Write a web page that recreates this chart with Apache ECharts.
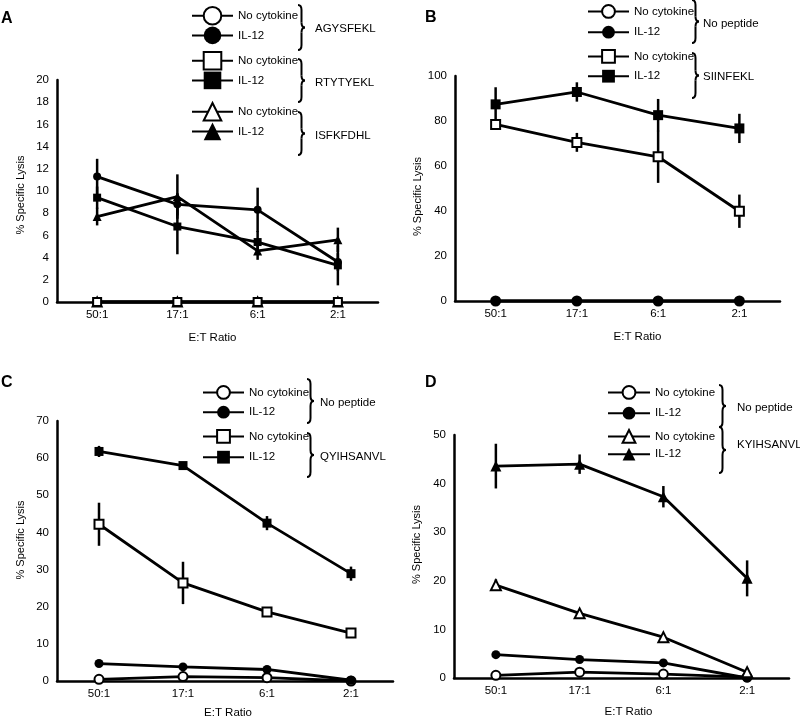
<!DOCTYPE html>
<html><head><meta charset="utf-8">
<script src="https://cdn.jsdelivr.net/npm/echarts@6/dist/echarts.min.js"></script>
<style>html,body{margin:0;padding:0;background:#fff}#c{width:800px;height:717px}</style>
</head><body><div id="c"></div>
<script>
const categories = ['50:1', '17:1', '6:1', '2:1'];
const yAxisTitle = '% Specific Lysis';
const xAxisTitle = 'E:T Ratio';
const noCytLabel = 'No cytokine';
const il12Label = 'IL-12';

// Panel A
const A_AGY_noCyt = [0, 0, 0, 0];
const A_AGY_il12 = [11.3, 8.8, 8.3, 3.6];
const A_AGY_il12Err = [1.6, 1.0, 2.0, 0.8];
const A_RTY_noCyt = [0, 0, 0, 0];
const A_RTY_il12 = [9.4, 6.8, 5.4, 3.3];
const A_RTY_il12Err = [1.0, 2.5, 1.0, 1.8];
const A_ISF_noCyt = [0, 0, 0, 0];
const A_ISF_il12 = [7.7, 9.5, 4.6, 5.6];
const A_ISF_il12Err = [0.8, 2.0, 0.8, 1.1];
const A_groups = ['AGYSFEKL', 'RTYTYEKL', 'ISFKFDHL'];
const A_ticks = [0, 20, 2];

// Panel B
const B_none_noCyt = [0, 0, 0, 0];
const B_none_il12 = [0, 0, 0, 0];
const B_SII_noCyt = [78.5, 70.5, 64.1, 39.9];
const B_SII_noCytErr = [1.0, 4.2, 11.6, 7.4];
const B_SII_il12 = [87.4, 92.9, 82.6, 76.7];
const B_SII_il12Err = [7.6, 4.3, 7.2, 6.5];
const B_groups = ['No peptide', 'SIINFEKL'];
const B_ticks = [0, 100, 20];

// Panel C
const C_none_noCyt = [0.45, 1.2, 0.9, 0];
const C_none_il12 = [4.7, 3.8, 3.1, 0.2];
const C_QYI_noCyt = [42.2, 26.4, 18.6, 12.9];
const C_QYI_noCytErr = [5.8, 5.7, 0.5, 0.3];
const C_QYI_il12 = [61.8, 58.0, 42.5, 28.9];
const C_QYI_il12Err = [1.5, 0.7, 1.9, 1.9];
const C_groups = ['No peptide', 'QYIHSANVL'];
const C_ticks = [0, 70, 10];

// Panel D
const D_none_noCyt = [0.55, 1.2, 0.8, 0.2];
const D_none_il12 = [4.8, 3.8, 3.1, 0];
const D_KYI_noCyt = [19.1, 13.3, 8.4, 1.2];
const D_KYI_noCytErr = [1.2, 0.6, 0.8, 0.9];
const D_KYI_il12 = [43.6, 44.0, 37.3, 20.5];
const D_KYI_il12Err = [4.6, 2.0, 2.2, 3.7];
const D_groups = ['No peptide', 'KYIHSANVL'];
const D_ticks = [0, 50, 10];

const FONT = '"Liberation Sans", Arial, Helvetica, sans-serif';

const panels = [
  { letter: 'A', letterPos: [1, 19], grid: { left: 57, top: 80, width: 321, height: 222 }, ticks: A_ticks,
    yGap: 31, yPad: [0, 8, 0, 0], xGap: 30, xPad: [0, 10, 0, 0],
    series: [
      { id: 'A1', sym: 'emptyCircle', size: 8, data: A_AGY_noCyt, label: noCytLabel },
      { id: 'A3', sym: 'emptyTriangle', size: 9, data: A_ISF_noCyt, label: noCytLabel },
      { id: 'A2', sym: 'emptyRect', size: 8, data: A_RTY_noCyt, label: noCytLabel },
      { id: 'A4', sym: 'circle', size: 8, data: A_AGY_il12, err: A_AGY_il12Err, label: il12Label },
      { id: 'A5', sym: 'rect', size: 8, data: A_RTY_il12, err: A_RTY_il12Err, label: il12Label },
      { id: 'A6', sym: 'triangle', size: 9, data: A_ISF_il12, err: A_ISF_il12Err, label: il12Label }
    ],
    legends: [
      { items: ['A1', 'A4'], left: 191, top: 6, w: 41, h: 22, gap: 1 },
      { items: ['A2', 'A5'], left: 191, top: 51, w: 41, h: 22, gap: 1 },
      { items: ['A3', 'A6'], left: 191, top: 102, w: 41, h: 22, gap: 1 }
    ],
    braces: [[298, 5, 50], [298, 59, 102], [298, 112, 155]],
    groupLabels: [[A_groups[0], 315, 29], [A_groups[1], 315, 83], [A_groups[2], 315, 136]]
  },
  { letter: 'B', letterPos: [425, 18], grid: { left: 455, top: 76, width: 325, height: 225 }, ticks: B_ticks,
    yGap: 32, yPad: [0, 16, 0, 0], xGap: 30, xPad: [0, 0, 0, 40],
    series: [
      { id: 'B1', sym: 'emptyCircle', size: 9, data: B_none_noCyt, label: noCytLabel },
      { id: 'B2', sym: 'circle', size: 9, data: B_none_il12, label: il12Label },
      { id: 'B3', sym: 'emptyRect', size: 9, data: B_SII_noCyt, err: B_SII_noCytErr, label: noCytLabel },
      { id: 'B4', sym: 'rect', size: 10, data: B_SII_il12, err: B_SII_il12Err, label: il12Label }
    ],
    legends: [
      { items: ['B1', 'B2'], left: 587, top: 4, w: 41, h: 16, gap: 7 },
      { items: ['B3', 'B4'], left: 587, top: 49, w: 41, h: 16, gap: 6 }
    ],
    braces: [[692, 0, 43], [692, 53, 98]],
    groupLabels: [[B_groups[0], 703, 24], [B_groups[1], 703, 77]]
  },
  { letter: 'C', letterPos: [1, 383], grid: { left: 57, top: 421, width: 336, height: 260 }, ticks: C_ticks,
    yGap: 31, yPad: [0, 0, 0, 22], xGap: 26, xPad: [0, 0, 0, 6],
    series: [
      { id: 'C1', sym: 'emptyCircle', size: 9, data: C_none_noCyt, label: noCytLabel },
      { id: 'C2', sym: 'circle', size: 9, data: C_none_il12, label: il12Label },
      { id: 'C3', sym: 'emptyRect', size: 9, data: C_QYI_noCyt, err: C_QYI_noCytErr, label: noCytLabel },
      { id: 'C4', sym: 'rect', size: 9, data: C_QYI_il12, err: C_QYI_il12Err, label: il12Label }
    ],
    legends: [
      { items: ['C1', 'C2'], left: 202, top: 385, w: 41, h: 16, gap: 6 },
      { items: ['C3', 'C4'], left: 202, top: 429, w: 41, h: 16, gap: 7 }
    ],
    braces: [[307, 379, 423], [307, 433, 477]],
    groupLabels: [[C_groups[0], 320, 403], [C_groups[1], 320, 457]]
  },
  { letter: 'D', letterPos: [425, 383], grid: { left: 454, top: 435, width: 335, height: 243 }, ticks: D_ticks,
    yGap: 32, yPad: [0, 0, 0, 24], xGap: 28, xPad: [0, 0, 0, 14],
    series: [
      { id: 'D1', sym: 'emptyCircle', size: 9, data: D_none_noCyt, label: noCytLabel },
      { id: 'D2', sym: 'circle', size: 9, data: D_none_il12, label: il12Label },
      { id: 'D3', sym: 'emptyTriangle', size: 10, data: D_KYI_noCyt, err: D_KYI_noCytErr, label: noCytLabel },
      { id: 'D4', sym: 'triangle', size: 11, data: D_KYI_il12, err: D_KYI_il12Err, label: il12Label }
    ],
    legends: [
      { items: ['D1', 'D2'], left: 607, top: 385, w: 42, h: 16, gap: 7 },
      { items: ['D3', 'D4'], left: 607, top: 429, w: 42, h: 16, gap: 4 }
    ],
    braces: [[719, 385, 427], [719, 427, 473]],
    groupLabels: [[D_groups[0], 737, 408], [D_groups[1], 737, 445]]
  }
];

function braceElements(x, y1, y2) {
  const w = 7, q = 5, m = (y1 + y2) / 2, h = x + w / 2;
  const st = { stroke: '#000', lineWidth: 2, fill: null };
  return [
    { type: 'bezierCurve', silent: true, shape: { x1: x, y1: y1, cpx1: h, cpy1: y1, x2: h, y2: y1 + q }, style: st },
    { type: 'line', silent: true, shape: { x1: h, y1: y1 + q, x2: h, y2: m - q }, style: st },
    { type: 'bezierCurve', silent: true, shape: { x1: h, y1: m - q, cpx1: h, cpy1: m, x2: x + w, y2: m }, style: st },
    { type: 'bezierCurve', silent: true, shape: { x1: x + w, y1: m, cpx1: h, cpy1: m, x2: h, y2: m + q }, style: st },
    { type: 'line', silent: true, shape: { x1: h, y1: m + q, x2: h, y2: y2 - q }, style: st },
    { type: 'bezierCurve', silent: true, shape: { x1: h, y1: y2 - q, cpx1: h, cpy1: y2, x2: x, y2: y2 }, style: st }
  ];
}

const option = {
  animation: false,
  backgroundColor: '#fff',
  textStyle: { fontFamily: FONT },
  grid: [], xAxis: [], yAxis: [], series: [], legend: [], graphic: { elements: [] }
};
const G = option.graphic.elements;

const labelOf = {};
panels.forEach((p, pi) => {
  option.grid.push(Object.assign({ containLabel: false, outerBoundsMode: 'none' }, p.grid));
  option.xAxis.push({
    type: 'category', gridIndex: pi, data: categories, boundaryGap: true,
    name: xAxisTitle, nameLocation: 'middle', nameGap: p.xGap,
    nameTextStyle: { fontSize: 11.5, color: '#000', fontFamily: FONT, padding: p.xPad },
    axisLine: { lineStyle: { color: '#000', width: 2.5 } },
    axisTick: { show: false },
    axisLabel: { fontSize: 11.5, color: '#000', margin: 7, fontFamily: FONT },
    splitLine: { show: false }
  });
  option.yAxis.push({
    type: 'value', gridIndex: pi, min: p.ticks[0], max: p.ticks[1], interval: p.ticks[2],
    name: yAxisTitle, nameLocation: 'middle', nameGap: p.yGap,
    nameTextStyle: { fontSize: 11, color: '#000', fontFamily: FONT, padding: p.yPad },
    axisLine: { show: true, lineStyle: { color: '#000', width: 2.5 } },
    axisTick: { show: false },
    axisLabel: { fontSize: 11.5, color: '#000', margin: 8, fontFamily: FONT },
    splitLine: { show: false }
  });
  p.series.forEach(s => {
    labelOf[s.id] = s.label;
    if (s.err) {
      option.series.push({
        type: 'custom', xAxisIndex: pi, yAxisIndex: pi, z: 1, silent: true,
        data: s.data.map((v, i) => [i, v, s.err[i]]),
        encode: { x: 0, y: 1 },
        renderItem: (params, api) => {
          const i = api.value(0), v = api.value(1), e = api.value(2);
          const a = api.coord([i, v + e]), b = api.coord([i, v - e]);
          return { type: 'line', shape: { x1: a[0], y1: a[1], x2: b[0], y2: b[1] },
            style: { stroke: '#000', lineWidth: 2.5 } };
        }
      });
    }
    option.series.push({
      type: 'line', name: s.id, xAxisIndex: pi, yAxisIndex: pi, z: 3,
      data: s.data, symbol: s.sym, symbolSize: s.size, showSymbol: true,
      color: '#000',
      lineStyle: { color: '#000', width: 2.8 },
      itemStyle: { color: '#000', borderWidth: 2 },
      emphasis: { disabled: true }, silent: true
    });
  });
  p.legends.forEach(l => {
    option.legend.push({
      orient: 'vertical', left: l.left, top: l.top, padding: 0,
      itemWidth: l.w, itemHeight: l.h, itemGap: l.gap, selectedMode: false,
      data: l.items,
      formatter: name => labelOf[name],
      textStyle: { fontSize: 11.5, color: '#000', fontFamily: FONT }
    });
  });
  p.braces.forEach(b => { braceElements(b[0], b[1], b[2]).forEach(e => G.push(e)); });
  p.groupLabels.forEach(g => {
    G.push({ type: 'text', x: g[1], y: g[2], silent: true,
      style: { text: g[0], fontSize: 11.5, fontFamily: FONT, fill: '#000', verticalAlign: 'middle' } });
  });
  G.push({ type: 'text', x: p.letterPos[0], y: p.letterPos[1], silent: true,
    style: { text: p.letter, fontSize: 16, fontWeight: 'bold', fontFamily: FONT, fill: '#000', verticalAlign: 'middle' } });
});

const chart = echarts.init(document.getElementById('c'), null, { renderer: 'canvas' });
chart.setOption(option);
</script>
</body></html>
